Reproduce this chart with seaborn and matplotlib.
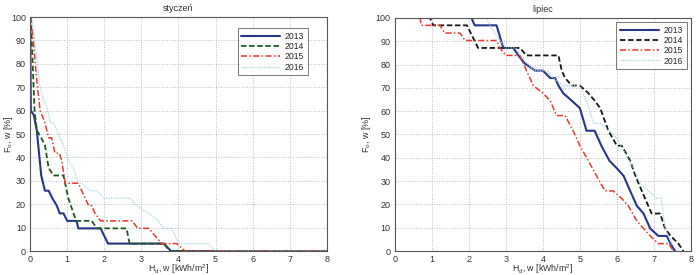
import matplotlib
matplotlib.use("Agg")
import matplotlib.pyplot as plt
import seaborn as sns
import pandas as pd

# ---- data: duration curves (x = H_d [kWh/m2], y = F [%]) ----
years = ["2013", "2014", "2015", "2016"]

jan_2013_x = [0.0, 0.02, 0.1, 0.18, 0.3, 0.4, 0.5, 0.6, 0.72, 0.8, 0.9, 1.0, 1.25, 1.3, 1.9, 2.1, 3.6, 3.8, 8.0]
jan_2013_y = [100, 60, 58.1, 51.6, 32.3, 25.8, 25.8, 22.6, 19.4, 16.1, 16.1, 12.9, 12.9, 9.7, 9.7, 3.2, 3.2, 0, 0]
jan_2014_x = [0.02, 0.12, 0.18, 0.3, 0.4, 0.5, 0.63, 0.9, 1.03, 1.24, 1.66, 1.8, 2.6, 2.68, 3.62, 3.75, 8.0]
jan_2014_y = [100, 60, 51.6, 48.4, 45.2, 35.5, 32.3, 32.3, 22.6, 12.9, 12.9, 9.7, 9.7, 3.2, 3.2, 0, 0]
jan_2015_x = [0.0, 0.09, 0.14, 0.2, 0.27, 0.32, 0.4, 0.5, 0.58, 0.67, 0.79, 0.85, 0.95, 1.03, 1.3, 1.39, 1.58, 1.66, 1.75, 1.9, 2.75, 2.9, 3.2, 3.37, 3.55, 3.95, 4.18, 8.0]
jan_2015_y = [100, 90, 80, 70, 60, 58.1, 54.8, 48.4, 48.4, 41.9, 41.9, 38.7, 29.0, 29.0, 29.0, 25.8, 19.4, 19.4, 16.1, 12.9, 12.9, 9.7, 9.7, 6.5, 3.2, 3.2, 0, 0]
jan_2016_x = [0.05, 0.27, 0.36, 0.45, 0.55, 0.63, 0.72, 0.9, 1.03, 1.17, 1.3, 1.39, 1.62, 1.8, 1.98, 2.7, 2.87, 3.19, 3.46, 3.6, 3.82, 4.0, 4.8, 4.98, 8.0]
jan_2016_y = [100, 70, 64.5, 61.3, 54.8, 54.8, 51.6, 45.2, 38.7, 35.5, 29.0, 29.0, 25.8, 25.8, 22.6, 22.6, 19.4, 16.1, 12.9, 9.7, 9.7, 3.2, 3.2, 0, 0]

jul_2013_x = [0.0, 2.07, 2.16, 2.75, 2.93, 3.2, 3.34, 3.5, 3.79, 4.0, 4.2, 4.33, 4.42, 4.55, 4.78, 5.0, 5.18, 5.4, 5.58, 5.8, 6.0, 6.18, 6.36, 6.54, 6.72, 6.9, 7.12, 7.35, 7.45, 7.57]
jul_2013_y = [100, 100, 96.8, 96.8, 87.1, 87.1, 83.9, 80.6, 77.4, 77.4, 74.2, 74.2, 71.0, 67.7, 64.5, 61.3, 51.6, 51.6, 45.2, 38.7, 35.5, 32.3, 25.8, 19.4, 16.1, 9.7, 6.5, 6.5, 3.2, 0]
jul_2014_x = [0.0, 0.95, 1.04, 1.95, 2.25, 3.38, 3.56, 4.42, 4.51, 4.6, 4.78, 5.0, 5.23, 5.4, 5.55, 5.77, 6.0, 6.13, 6.36, 6.5, 6.76, 6.94, 7.17, 7.3, 7.45, 7.66, 7.8]
jul_2014_y = [100, 100, 96.8, 96.8, 87.1, 87.1, 83.9, 83.9, 77.4, 74.2, 71.0, 71.0, 67.7, 64.5, 61.3, 51.6, 45.2, 45.2, 38.7, 32.3, 22.6, 16.1, 16.1, 9.7, 6.5, 3.2, 0]
jul_2015_x = [0.0, 0.68, 0.72, 1.22, 1.35, 1.76, 1.9, 2.75, 2.84, 3.0, 3.38, 3.56, 3.74, 4.0, 4.2, 4.37, 4.6, 4.82, 5.0, 5.23, 5.45, 5.68, 5.9, 6.13, 6.31, 6.54, 6.72, 6.9, 7.12, 7.4, 7.53]
jul_2015_y = [100, 100, 96.8, 96.8, 93.5, 93.5, 90.3, 90.3, 87.1, 83.9, 83.9, 77.4, 71.0, 67.7, 64.5, 58.1, 58.1, 51.6, 45.2, 38.7, 32.3, 25.8, 25.8, 22.6, 19.4, 12.9, 9.7, 6.5, 3.2, 3.2, 0]
jul_2016_x = [0.0, 2.48, 2.57, 2.84, 3.0, 3.27, 3.4, 3.58, 3.76, 4.1, 4.28, 4.55, 5.0, 5.18, 5.37, 5.55, 5.8, 6.0, 6.22, 6.45, 6.63, 6.85, 7.07, 7.2, 7.3, 7.48, 7.66]
jul_2016_y = [100, 100, 96.8, 90.3, 87.1, 87.1, 83.9, 80.6, 77.4, 77.4, 74.2, 71.0, 71.0, 64.5, 54.8, 54.8, 51.6, 48.4, 41.9, 35.5, 29.0, 25.8, 22.6, 22.6, 9.7, 3.2, 0]

jan = {"2013": (jan_2013_x, jan_2013_y), "2014": (jan_2014_x, jan_2014_y),
       "2015": (jan_2015_x, jan_2015_y), "2016": (jan_2016_x, jan_2016_y)}
jul = {"2013": (jul_2013_x, jul_2013_y), "2014": (jul_2014_x, jul_2014_y),
       "2015": (jul_2015_x, jul_2015_y), "2016": (jul_2016_x, jul_2016_y)}

x_ticks = [0, 1, 2, 3, 4, 5, 6, 7, 8]
y_ticks = [0, 10, 20, 30, 40, 50, 60, 70, 80, 90, 100]

sns.set_style("white")
plt.rcParams["font.family"] = ["Liberation Sans", "DejaVu Sans"]
plt.rcParams["mathtext.fontset"] = "custom"
plt.rcParams["mathtext.rm"] = "Liberation Sans"
plt.rcParams["mathtext.it"] = "Liberation Sans"

styles_jan = {"2013": dict(color="#27358a", ls="-", lw=1.5),
              "2014": dict(color="#1d5a1d", ls=(0, (3, 1.5)), lw=1.3),
              "2015": dict(color="#e8392c", ls=(0, (4, 1.5, 1, 1.5)), lw=1.1),
              "2016": dict(color="#9fd7df", ls=(0, (1, 1)), lw=0.9)}
styles_jul = {"2013": dict(color="#27358a", ls="-", lw=1.5),
              "2014": dict(color="#151515", ls=(0, (3, 1.5)), lw=1.3),
              "2015": dict(color="#e8392c", ls=(0, (4, 1.5, 1, 1.5)), lw=1.1),
              "2016": dict(color="#9fd7df", ls=(0, (1, 1)), lw=0.9)}

fig = plt.figure(figsize=(7.0, 2.75), dpi=100)
ax1 = fig.add_axes([0.043, 0.087, 0.424, 0.851])
ax2 = fig.add_axes([0.564, 0.087, 0.423, 0.848])

def draw(ax, data, styles, title, legend_loc, bbox, ylab_x):
    for yr in years:
        xs, ys = data[yr]
        df = pd.DataFrame({"x": xs, "y": ys})
        st = styles[yr]
        sns.lineplot(data=df, x="x", y="y", ax=ax, sort=False, estimator=None,
                     color=st["color"], linestyle=st["ls"], linewidth=st["lw"], label=yr)
    ax.set_xlim(0, 8)
    ax.set_ylim(0, 100)
    ax.set_xticks(x_ticks)
    ax.set_yticks(y_ticks)
    ax.set_xticklabels([str(t) for t in x_ticks])
    ax.set_yticklabels([str(t) for t in y_ticks])
    ax.grid(True, color="#bbbbbb", linestyle=":", linewidth=0.7)
    ax.tick_params(labelsize=6.5, length=2, pad=1, colors="#333333")
    ax.tick_params(axis="x", pad=0.5)
    for s in ax.spines.values():
        s.set_color("#555555")
        s.set_linewidth(0.8)
    ax.set_title(title, fontsize=6.5, pad=4, color="#333333")
    ax.set_xlabel("H$_d$, w [kWh/m$^2$]", fontsize=6.3, color="#333333")
    ax.set_ylabel("F$_o$, w [%]", fontsize=6.5, color="#333333")
    ax.xaxis.set_label_coords(0.5, -0.05)
    ax.yaxis.set_label_coords(ylab_x, 0.5)
    leg = ax.legend(loc=legend_loc, bbox_to_anchor=bbox, fontsize=6.2, frameon=True,
                    fancybox=False, edgecolor="#555555", handlelength=4.5,
                    borderpad=0.4, labelspacing=0.15, handletextpad=0.6)
    leg.get_frame().set_linewidth(0.7)

draw(ax1, jan, styles_jan, "styczeń", "upper right", (0.95, 0.97), -0.052)
draw(ax2, jul, styles_jul, "lipiec", "upper right", (1.0, 1.0), -0.072)

fig.savefig("out.png", dpi=100)
